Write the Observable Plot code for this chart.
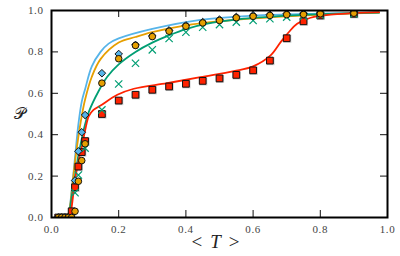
<!DOCTYPE html>
<html>
<head>
<meta charset="utf-8">
<script src="https://cdn.jsdelivr.net/npm/d3@7"></script>
<script src="https://cdn.jsdelivr.net/npm/@observablehq/plot@0.6"></script>
<style>
  html, body { margin: 0; padding: 0; background: #fff; }
</style>
</head>
<body>
<div id="chart"></div>
<script>
// marker T values
const tSym = [0.02,0.03,0.04,0.05,0.06,0.07,0.08,0.09,0.10,0.15,0.20,0.25,0.30,0.35,0.40,0.45,0.50,0.55,0.60,0.65,0.70,0.75,0.80,0.90];
const redSquares = [0,0,0,0,0.03,0.146,0.246,0.316,0.369,0.50,0.565,0.593,0.617,0.633,0.646,0.66,0.672,0.689,0.711,0.758,0.866,0.948,0.976,0.984];
const orangeCircles = [0,0,0,0,0,0.03,0.175,0.275,0.356,0.649,0.767,0.831,0.874,0.90,0.924,0.94,0.952,0.965,0.972,0.976,0.98,0.981,0.984,0.987];
const blueDiamonds = [0,0,0,0,0,0.179,0.32,0.412,0.495,0.697,0.79,0.834,0.877,0.904,0.928,0.944,0.956,0.969,0.977,0.98,0.984,0.985,0.988,0.99];
const greenCrosses = [null,null,null,null,null,0.12,0.205,null,0.335,0.52,0.645,0.745,0.81,0.865,0.895,0.919,0.932,0.944,0.952,0.96,0.968,0.973,0.978,0.984];

// curves
const blueT = [0.045,0.05,0.06,0.07,0.08,0.09,0.10,0.12,0.146,0.17,0.2,0.3,0.443,0.6,0.8,0.975];
const blueP = [0,0.01,0.13,0.29,0.45,0.56,0.62,0.73,0.80,0.84,0.865,0.911,0.955,0.975,0.985,0.99];
const orangeT = [0.048,0.055,0.06,0.07,0.08,0.09,0.10,0.12,0.146,0.2,0.25,0.3,0.4,0.5,0.6,0.7,0.8,0.9,0.975];
const orangeP = [0,0.05,0.12,0.27,0.39,0.49,0.57,0.68,0.765,0.845,0.872,0.895,0.928,0.948,0.962,0.972,0.98,0.986,0.99];
const greenT = [0.052,0.06,0.07,0.08,0.09,0.10,0.111,0.14,0.166,0.2,0.25,0.3,0.35,0.4,0.46,0.56,0.7,0.8,0.975];
const greenP = [0,0.1,0.2,0.3,0.38,0.45,0.51,0.61,0.68,0.74,0.80,0.845,0.88,0.91,0.935,0.958,0.975,0.982,0.99];
const redT = [0.055,0.06,0.07,0.08,0.09,0.10,0.111,0.125,0.146,0.196,0.245,0.344,0.443,0.543,0.6,0.652,0.682,0.706,0.731,0.771,0.84,0.975];
const redP = [0,0.05,0.18,0.27,0.34,0.42,0.49,0.52,0.541,0.593,0.622,0.649,0.678,0.707,0.73,0.783,0.847,0.895,0.936,0.965,0.981,0.992];

const tickLabels = [0, 0.2, 0.4, 0.6, 0.8, 1.0];
const innerTicks = [0.2, 0.4, 0.6, 0.8];
const xLabel = "< T >";
const yLabel = "𝒫";

const C = {blue: "#56B4E9", orange: "#E69F00", green: "#009E73", red: "#FF2200"};

const toPts = (ts, ps) => ts.map((t, i) => ({t, p: ps[i]}));
const sym = (ps) => tSym.map((t, i) => ({t, p: ps[i]}));

const plot = Plot.plot({
  width: 400,
  height: 256,
  marginLeft: 51,
  marginRight: 13,
  marginTop: 10,
  marginBottom: 39,
  style: {fontFamily: "'Liberation Serif', serif", fontSize: "11px", color: "#444", background: "#fff", letterSpacing: "0.6px"},
  x: {domain: [0, 1], ticks: tickLabels, tickSize: 0, tickPadding: 8, tickFormat: d => d.toFixed(1), label: null},
  y: {domain: [0, 1], ticks: tickLabels, tickSize: 0, tickPadding: 8, tickFormat: d => d.toFixed(1), label: null},
  marks: [
    Plot.ruleX(innerTicks, {x: d => d, insetTop: 200, stroke: "#111", strokeWidth: 1}),
    Plot.ruleX(innerTicks, {x: d => d, insetBottom: 200, stroke: "#111", strokeWidth: 1}),
    Plot.ruleY(innerTicks, {y: d => d, insetRight: 329, stroke: "#111", strokeWidth: 1}),
    Plot.ruleY(innerTicks, {y: d => d, insetLeft: 329, stroke: "#111", strokeWidth: 1}),
    Plot.line(toPts(blueT, blueP), {x: "t", y: "p", stroke: C.blue, strokeWidth: 1.8, curve: "catmull-rom", clip: true}),
    Plot.line(toPts(orangeT, orangeP), {x: "t", y: "p", stroke: C.orange, strokeWidth: 1.8, curve: "catmull-rom", clip: true}),
    Plot.line(toPts(greenT, greenP), {x: "t", y: "p", stroke: C.green, strokeWidth: 1.8, curve: "catmull-rom", clip: true}),
    Plot.line(toPts(redT, redP), {x: "t", y: "p", stroke: C.red, strokeWidth: 1.8, curve: "catmull-rom", clip: true}),
    Plot.dot(sym(redSquares), {x: "t", y: "p", symbol: "square", r: 4.6, fill: "#777", fillOpacity: 0.4, dx: 0.5, dy: 0.5, clip: true}),
    Plot.dot(sym(redSquares), {x: "t", y: "p", symbol: "square", r: 3.8, fill: C.red, stroke: "#111", strokeWidth: 1, clip: true}),
    Plot.dot(sym(greenCrosses), {x: "t", y: "p", symbol: "times", r: 3.4, stroke: C.green, strokeWidth: 1.2, clip: true}),
    Plot.dot(sym(blueDiamonds), {x: "t", y: "p", symbol: "diamond2", r: 3.4, fill: C.blue, stroke: "#111", strokeWidth: 1, clip: true}),
    Plot.dot(sym(orangeCircles), {x: "t", y: "p", symbol: "circle", r: 3.3, fill: C.orange, stroke: "#111", strokeWidth: 1, clip: true}),
    Plot.frame({stroke: "#000", strokeWidth: 2}),
    Plot.text([xLabel], {frameAnchor: "bottom", dx: -4, dy: 24, text: d => d, fontSize: 19, fill: "#222", lineAnchor: "middle"}),
    Plot.text([yLabel], {frameAnchor: "left", dx: -38, text: d => d, fontSize: 16, fill: "#222", lineAnchor: "middle", fontFamily: "'DejaVu Sans', serif"})
  ]
});

// italic T in the x label with math spacing
const lbl = Array.from(plot.querySelectorAll("text")).find(t => t.textContent === xLabel);
if (lbl) {
  const parts = xLabel.split(" ");
  lbl.textContent = "";
  lbl.style.letterSpacing = "0";
  const ns = "http://www.w3.org/2000/svg";
  parts.forEach((p, i) => {
    const ts = document.createElementNS(ns, "tspan");
    ts.textContent = p;
    if (i > 0) ts.setAttribute("dx", "8");
    if (p === "T") ts.setAttribute("font-style", "italic");
    lbl.appendChild(ts);
  });
}
document.getElementById("chart").appendChild(plot);
</script>
</body>
</html>
